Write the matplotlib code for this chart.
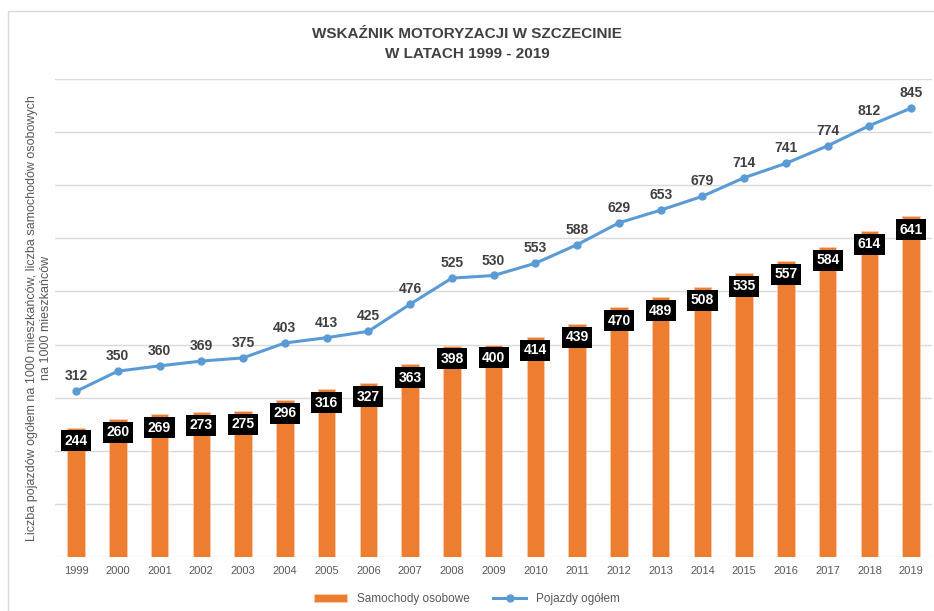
import matplotlib.pyplot as plt
from matplotlib.patches import Rectangle

years = list(range(1999, 2020))
samochody = [244, 260, 269, 273, 275, 296, 316, 327, 363, 398, 400, 414, 439, 470, 489, 508, 535, 557, 584, 614, 641]
pojazdy = [312, 350, 360, 369, 375, 403, 413, 425, 476, 525, 530, 553, 588, 629, 653, 679, 714, 741, 774, 812, 845]

plt.rcParams['font.family'] = ['Liberation Sans', 'DejaVu Sans']

fig = plt.figure(figsize=(9.34, 6.11), dpi=100)
ax = fig.add_axes([0.059, 0.088, 0.939, 0.783])

x = list(range(len(years)))
orange = '#ED7D31'
blue = '#5B9BD5'

bars = ax.bar(x, samochody, width=0.42, color=orange, edgecolor='#F8CBAD', linewidth=0.6, zorder=2,
              label='Samochody osobowe')
line, = ax.plot(x, pojazdy, color=blue, lw=2.2, marker='o', ms=5, zorder=3, label='Pojazdy ogółem')

for i, v in enumerate(samochody):
    ax.text(i, v - 25, str(v), ha='center', va='center', color='white', fontsize=10,
            fontweight='bold', zorder=4,
            bbox=dict(boxstyle='square,pad=0.25', fc='black', ec='none'))
for i, v in enumerate(pojazdy):
    ax.text(i, v + 15, str(v), ha='center', va='bottom', color='#404040', fontsize=10,
            fontweight='bold', zorder=4)

ax.set_xlim(-0.5, len(years) - 0.5)
ax.set_ylim(0, 900)
ax.set_yticks(range(0, 901, 100))
ax.set_yticklabels([])
ax.tick_params(axis='y', length=0)
ax.tick_params(axis='x', length=0, labelsize=8, colors='#595959', pad=6)
ax.set_xticks(x)
ax.set_xticklabels([str(y) for y in years])
ax.grid(axis='y', color='#D9D9D9', lw=1, zorder=0)
for s in ax.spines.values():
    s.set_visible(False)

ax.set_ylabel('Liczba pojazdów ogółem na 1000 mieszkańców, liczba samochodów osobowych\nna 1000 mieszkańców',
              fontsize=9, color='#595959')
ax.yaxis.set_label_coords(-0.004, 0.5)

fig.text(0.5, 0.928, 'WSKAŹNIK MOTORYZACJI W SZCZECINIE\nW LATACH 1999 - 2019', ha='center', va='center',
         fontsize=11, fontweight='bold', color='#404040', linespacing=1.5)

leg = fig.legend([bars, line], ['Samochody osobowe', 'Pojazdy ogółem'], loc='lower center',
                 bbox_to_anchor=(0.5, -0.008), ncol=2, frameon=False,
                 handlelength=2.8, columnspacing=2, prop={'size': 8.5})
for t in leg.get_texts():
    t.set_color('#595959')

fig.patches.append(Rectangle((8 / 934, -0.05), 1.2, (611 - 11) / 611 + 0.05, transform=fig.transFigure,
                             fill=False, ec='#D9D9D9', lw=1))

fig.savefig('out.png', dpi=100)
